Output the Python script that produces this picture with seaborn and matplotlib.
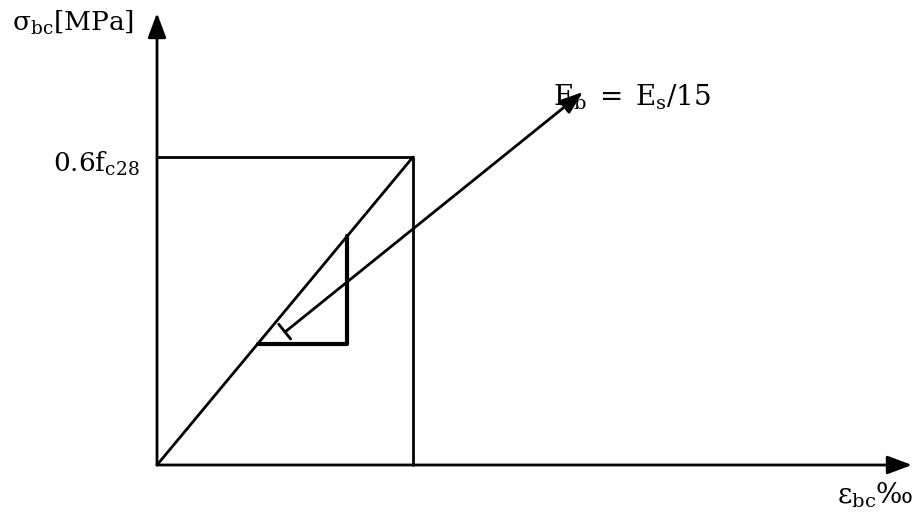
import numpy as np
import matplotlib
matplotlib.use("Agg")
import matplotlib.pyplot as plt
import seaborn as sns

# Diagramme contrainte-déformation du béton à l'ELS (unités du schéma)
eps_lim = 2.56          # déformation correspondant à 0.6 fc28
sig_lim = 3.08          # 0.6 fc28
axe_x_max = 7.55        # extrémité de l'axe des déformations
axe_y_max = 4.52        # extrémité de l'axe des contraintes

# loi linéaire sigma = Eb * eps
droite_x = [0.0, eps_lim]
droite_y = [0.0, sig_lim]

# rectangle de limite
rect_x = [0.0, eps_lim, eps_lim]
rect_y = [sig_lim, sig_lim, 0.0]

# petit triangle de pente
tri_x = [1.01, 1.90, 1.90]
tri_y = [1.21, 1.21, 2.29]

# flèche vers l'annotation du module
fleche_debut = (1.28, 1.33)
fleche_fin = (4.26, 3.73)

sns.set_theme(style="white")
plt.rcParams["mathtext.fontset"] = "dejavuserif"
plt.rcParams["font.family"] = ["DejaVu Serif"]
plt.rcParams["text.color"] = "black"

fig = plt.figure(figsize=(9.24, 5.16), dpi=100)
ax = fig.add_axes([0, 0, 1, 1])
ax.set_xlim(-1.57, 7.67)
ax.set_ylim(-0.51, 4.65)
ax.axis("off")

# axes avec flèches
fl = dict(arrowstyle="-|>,head_length=0.75,head_width=0.28", color="black",
          lw=2, shrinkA=0, shrinkB=0, mutation_scale=20)
ax.annotate("", xy=(axe_x_max, 0), xytext=(0, 0), arrowprops=fl)
ax.annotate("", xy=(0, axe_y_max), xytext=(0, 0), arrowprops=fl)

opts = dict(ax=ax, color="black", sort=False, estimator=None, errorbar=None)
sns.lineplot(x=droite_x, y=droite_y, lw=2, **opts)
sns.lineplot(x=rect_x, y=rect_y, lw=2, **opts)
sns.lineplot(x=tri_x, y=tri_y, lw=3, **opts)

# flèche Eb
ax.annotate("", xy=fleche_fin, xytext=fleche_debut,
            arrowprops=dict(arrowstyle="-|>,head_length=0.7,head_width=0.25",
                            color="black", lw=2, shrinkA=0, shrinkB=0,
                            mutation_scale=20))
# petit trait perpendiculaire au départ de la flèche
d = np.array(fleche_fin) - np.array(fleche_debut)
n = np.array([d[1], -d[0]]) / np.hypot(*d) * 0.1
ax.plot([fleche_debut[0] - n[0], fleche_debut[0] + n[0] * 0.9],
        [fleche_debut[1] - n[1], fleche_debut[1] + n[1] * 0.9],
        color="black", lw=2)

# textes
ax.text(-1.45, 4.42, r"σ$_{\mathrm{bc}}$[MPa]", fontsize=19,
        ha="left", va="center")
ax.text(-1.04, 2.93, r"0.6$\mathrm{f}_{\mathrm{c28}}$", fontsize=19,
        ha="left", va="baseline")
ax.text(3.96, 3.60, r"$\mathrm{E_b\;=\;E_s/15}$", fontsize=20,
        ha="left", va="baseline")
ax.text(6.80, -0.38, r"ε$_{\mathrm{bc}}$‰", fontsize=20,
        ha="left", va="baseline")

fig.savefig("out.png", dpi=100)
